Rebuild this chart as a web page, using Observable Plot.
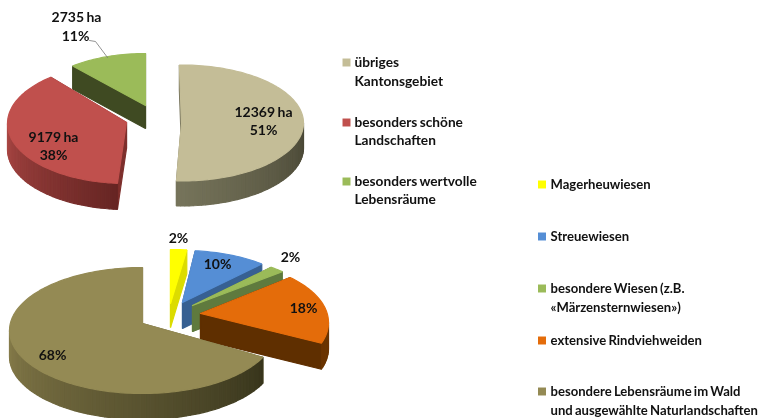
<!DOCTYPE html>
<html><head><meta charset="utf-8">
<script src="https://cdn.jsdelivr.net/npm/d3@7"></script>
<script src="https://cdn.jsdelivr.net/npm/@observablehq/plot@0.6"></script>
<style>html,body{margin:0;padding:0;background:#fff}svg{display:block}svg text{word-spacing:-1px}</style>
</head><body><div id="chart"></div>
<script>
// data
const areaNames = ["übriges Kantonsgebiet", "besonders schöne Landschaften", "besonders wertvolle Lebensräume"];
const areaHectares = [12369, 9179, 2735];
const areaShares = ["51%", "38%", "11%"];
const habitatNames = ["Magerheuwiesen", "Streuewiesen", "besondere Wiesen (z.B. «Märzensternwiesen»)", "extensive Rindviehweiden", "besondere Lebensräume im Wald und ausgewählte Naturlandschaften"];
const habitatShares = [2, 10, 2, 18, 68];

// presentation: one entry per slice, parallel to the data arrays
const areaStyle = [
  {ax:181,ay:123,cx:181,cy:122.5,rx:122,ry:58,d:25,rot:-1,top:"#c4bd97",face:"#77745c",light:"#77745b",dark:"#474534"},
  {ax:126,ay:122,cx:126,cy:123,rx:119,ry:60,d:26,rot:1,top:"#c0504d",face:"#7d2f2c",light:"#aa4744",dark:"#662523"},
  {ax:145,ay:105,cx:145,cy:105,rx:112,ry:52,d:23,rot:0,top:"#9bbb59",face:"#3f4a22",light:"#3f4a22",dark:"#3f4a22"}
];
const habitatStyle = [
  {ax:170,ay:303,cx:170,cy:302,rx:130,ry:53,d:24,rot:0,top:"#ffff00",face:"#dcdc00",light:"#dcdc00",dark:"#dcdc00"},
  {ax:182,ay:302,cx:182,cy:302,rx:118,ry:52,d:26,rot:-1,top:"#558ed5",face:"#376092",light:"#376092",dark:"#376092"},
  {ax:192,ay:305,cx:192,cy:305,rx:122,ry:50,d:26,rot:-3,top:"#9bbb59",face:"#5f7a3e",light:"#5f7a3e",dark:"#5f7a3e"},
  {ax:200,ay:313,cx:200,cy:322,rx:128,ry:63,d:26,rot:-6,top:"#e46c0a",face:"#5f2f00",light:"#6a3400",dark:"#6a3400"},
  {ax:142,ay:323,cx:142,cy:330,rx:133,ry:63,d:26,rot:0,top:"#948a54",face:"#6d663c",light:"#857b4a",dark:"#38351c"}
];
const legendLeft = [
  {t:"übriges",x:354,y:62},{t:"Kantonsgebiet",x:354,y:81},
  {t:"besonders schöne",x:354,y:122},{t:"Landschaften",x:354,y:140},
  {t:"besonders wertvolle",x:354,y:181},{t:"Lebensräume",x:354,y:199}
];
const legendRight = [
  {t:"Magerheuwiesen",x:550,y:184},{t:"Streuewiesen",x:550,y:236},
  {t:"besondere Wiesen (z.B.",x:550,y:288},{t:"«Märzensternwiesen»)",x:550,y:307},
  {t:"extensive Rindviehweiden",x:550,y:340},
  {t:"besondere Lebensräume im Wald",x:550,y:391},{t:"und ausgewählte Naturlandschaften",x:550,y:410.5}
];
const legendKeys = [
  {c:areaStyle[0].top,x:346,y:62},{c:areaStyle[1].top,x:346,y:122},{c:areaStyle[2].top,x:346,y:181},
  {c:habitatStyle[0].top,x:541.5,y:184},{c:habitatStyle[1].top,x:541.5,y:236},{c:habitatStyle[2].top,x:541.5,y:288},
  {c:habitatStyle[3].top,x:541.5,y:340},{c:habitatStyle[4].top,x:541.5,y:391}
];
const valueLabels = [
  {t:`${areaHectares[2]} ha`,x:76,y:17},{t:areaShares[2],x:75,y:36},
  {t:`${areaHectares[0]} ha`,x:263,y:112},{t:areaShares[0],x:263,y:130},
  {t:`${areaHectares[1]} ha`,x:53,y:137},{t:areaShares[1],x:53,y:155},
  {t:`${habitatShares[0]}%`,x:178,y:238},{t:`${habitatShares[1]}%`,x:217,y:264},
  {t:`${habitatShares[2]}%`,x:290,y:257},{t:`${habitatShares[3]}%`,x:303,y:308},
  {t:`${habitatShares[4]}%`,x:52,y:355}
];
const leader = [{x:89,y:40},{x:95,y:41},{x:107,y:57}];

// build slice polygons through d3.pie
const shapes = [];
let sid = 0;
const DEG = Math.PI / 180;
function addShape(points, color) {
  const id = sid++;
  for (const [x, y] of [...points, points[0]]) shapes.push({x, y, id, color});
}
function addPie(values, styles, order) {
  const arcs = d3.pie().sort(null)(values);
  for (const i of order) {
    const s = styles[i];
    const a0 = arcs[i].startAngle + s.rot * DEG, a1 = arcs[i].endAngle + s.rot * DEG;
    const rim = a => [s.cx + s.rx * Math.sin(a), s.cy - s.ry * Math.cos(a)];
    for (const a of [a0, a1]) {
      const [x, y] = rim(a);
      addShape([[s.ax, s.ay], [x, y], [x, y + s.d], [s.ax, s.ay + s.d]], s.face);
    }
    const w0 = Math.max(a0, Math.PI / 2), w1 = Math.min(a1, 1.5 * Math.PI);
    if (w1 > w0) {
      const n = Math.ceil((w1 - w0) / (2 * DEG));
      const shade = d3.interpolateRgb(s.light, s.dark);
      for (let k = 0; k < n; k++) {
        const p = rim(w0 + (w1 - w0) * k / n), q = rim(w0 + (w1 - w0) * (k + 1) / n);
        addShape([p, q, [q[0], q[1] + s.d], [p[0], p[1] + s.d]], shade(1 - (k + .5) / n));
      }
    }
    const top = [[s.ax, s.ay]];
    const m = Math.ceil((a1 - a0) / (1.5 * DEG));
    for (let k = 0; k <= m; k++) top.push(rim(a0 + (a1 - a0) * k / m));
    addShape(top, s.top);
  }
}
addPie(areaHectares, areaStyle, [2, 1, 0]);
addPie(habitatShares, habitatStyle, [0, 1, 2, 3, 4]);

const font = "Lato, Carlito, sans-serif";
const chart = Plot.plot({
  width: 766, height: 418,
  marginTop: 0, marginRight: 0, marginBottom: 0, marginLeft: 0,
  x: {domain: [0, 766], range: [0, 766], axis: null},
  y: {domain: [0, 418], range: [0, 418], axis: null},
  color: {type: "identity"},
  style: {background: "#fff", filter: "blur(0.45px)"},
  marks: [
    Plot.line(shapes, {x: "x", y: "y", z: "id", fill: "color", stroke: "color", strokeWidth: 1.2, strokeLinejoin: "miter", curve: "linear"}),
    Plot.line(leader, {x: "x", y: "y", stroke: "#777", strokeWidth: 0.8}),
    Plot.dot(legendKeys, {x: "x", y: "y", fill: "c", symbol: "square", r: 4.5}),
    Plot.text(legendLeft, {x: "x", y: "y", text: "t", textAnchor: "start", fontFamily: font, fontSize: 13.7, fontWeight: 700, fill: "#111"}),
    Plot.text(legendRight, {x: "x", y: "y", text: "t", textAnchor: "start", fontFamily: font, fontSize: 13.1, fontWeight: 700, fill: "#111"}),
    Plot.text(valueLabels, {x: "x", y: "y", text: "t", textAnchor: "middle", fontFamily: font, fontSize: 14, fontWeight: 700, fill: "#111"})
  ]
});
document.getElementById("chart").append(chart);
</script>
</body></html>
